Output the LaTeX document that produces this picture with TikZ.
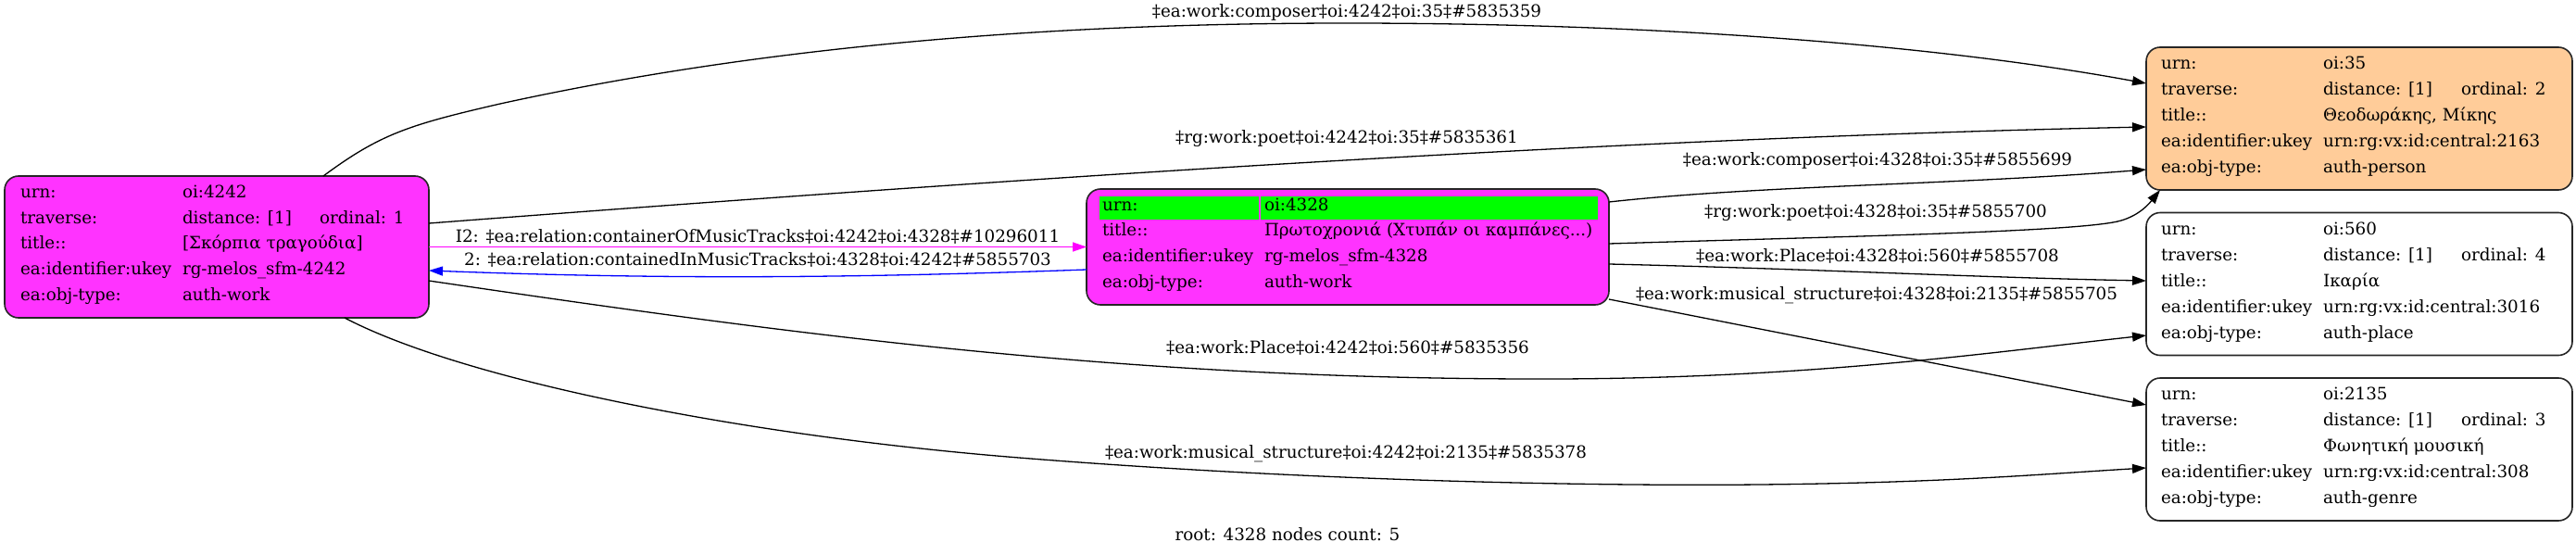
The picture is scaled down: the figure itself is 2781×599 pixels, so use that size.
\documentclass[tikz,border=0pt]{standalone}
\usepackage{fontspec}
\setmainfont{DejaVu Serif}
\usetikzlibrary{arrows.meta}
\definecolor{workfill}{HTML}{FF33FF}
\definecolor{personfill}{HTML}{FFCC99}
\definecolor{rootgreen}{HTML}{00FF00}
\definecolor{edgemag}{HTML}{FF00FF}
\definecolor{edgeblue}{HTML}{0000FF}
\newcommand{\dgfont}{\fontsize{18.3}{22}\selectfont}
\begin{document}
\begin{tikzpicture}[x=1pt,y=-1pt,
  every node/.style={font=\dgfont, inner sep=0pt, outer sep=0pt},
  recbox/.style={draw=black!85, line width=1.6pt, rounded corners=15pt, minimum width=460pt, minimum height=154pt},
  workbox/.style={recbox, fill=workfill},
  personbox/.style={recbox, fill=personfill},
  plainbox/.style={recbox, fill=white},
  cell/.style={anchor=mid west},
  elabel/.style={anchor=center},
  conn/.style={line width=1.3pt, -{Triangle[length=15pt,width=10pt]}},
]
\fill[white] (0,0) rectangle (2781,599);
\useasboundingbox (0,0) rectangle (2781,599);

% ---------- nodes ----------
\node[workbox, minimum width=458pt, minimum height=153pt] (n4242) at (234,266.5) {};
\node[workbox, minimum width=564pt, minimum height=125pt] (n4328) at (1455,266.5) {};
\node[personbox] (n35) at (2547,128) {};
\node[plainbox] (n560) at (2547,306.5) {};
\node[plainbox] (n2135) at (2547,485) {};

% root highlight
\fill[rootgreen] (1187,212) rectangle (1359,237);
\fill[rootgreen] (1361,212) rectangle (1725,237);

% node 4242 text
\node[cell] (a1) at (22,211) {urn:};
\node[cell] (a2) at (22,238.5) {traverse:};
\node[cell] (a3) at (22,266) {title::};
\node[cell] (a4) at (22,294) {ea:identifier:ukey};
\node[cell] (a5) at (22,322) {ea:obj-type:};
\node[cell] (b1) at (197,211) {oi:4242};
\node[cell] (b2) at (197,238.5) {distance: [1]};
\node[cell] (b2o) at (345,238.5) {ordinal: 1};
\node[cell] (b3) at (197,266) {{[Σκόρπια τραγούδια]}};
\node[cell] (b4) at (197,294) {rg-melos\_sfm-4242};
\node[cell] (b5) at (197,322) {auth-work};

% node 4328 text
\node[cell] (c1) at (1190,224.5) {urn:};
\node[cell] (c2) at (1190,252) {title::};
\node[cell] (c3) at (1190,280) {ea:identifier:ukey};
\node[cell] (c4) at (1190,307.5) {ea:obj-type:};
\node[cell] (d1) at (1365,224.5) {oi:4328};
\node[cell] (d2) at (1365,252) {Πρωτοχρονιά (Χτυπάν οι καμπάνες...)};
\node[cell] (d3) at (1365,280) {rg-melos\_sfm-4328};
\node[cell] (d4) at (1365,307.5) {auth-work};

% node 35 text
\node[cell] (e1) at (2333,72) {urn:};
\node[cell] (e2) at (2333,100) {traverse:};
\node[cell] (e3) at (2333,127.5) {title::};
\node[cell] (e4) at (2333,155.5) {ea:identifier:ukey};
\node[cell] (e5) at (2333,184) {ea:obj-type:};
\node[cell] (f1) at (2508,72) {oi:35};
\node[cell] (f2) at (2508,100) {distance: [1]};
\node[cell] (f2o) at (2657,100) {ordinal: 2};
\node[cell] (f3) at (2508,127.5) {Θεοδωράκης, Μίκης};
\node[cell] (f4) at (2508,155.5) {urn:rg:vx:id:central:2163};
\node[cell] (f5) at (2508,184) {auth-person};

% node 560 text
\node[cell] (g1) at (2333,251) {urn:};
\node[cell] (g2) at (2333,279) {traverse:};
\node[cell] (g3) at (2333,306.5) {title::};
\node[cell] (g4) at (2333,334.5) {ea:identifier:ukey};
\node[cell] (g5) at (2333,363) {ea:obj-type:};
\node[cell] (h1) at (2508,251) {oi:560};
\node[cell] (h2) at (2508,279) {distance: [1]};
\node[cell] (h2o) at (2657,279) {ordinal: 4};
\node[cell] (h3) at (2508,306.5) {Ικαρία};
\node[cell] (h4) at (2508,334.5) {urn:rg:vx:id:central:3016};
\node[cell] (h5) at (2508,363) {auth-place};

% node 2135 text
\node[cell] (i1) at (2333,429) {urn:};
\node[cell] (i2) at (2333,457) {traverse:};
\node[cell] (i3) at (2333,484.5) {title::};
\node[cell] (i4) at (2333,512.5) {ea:identifier:ukey};
\node[cell] (i5) at (2333,541) {ea:obj-type:};
\node[cell] (j1) at (2508,429) {oi:2135};
\node[cell] (j2) at (2508,457) {distance: [1]};
\node[cell] (j2o) at (2657,457) {ordinal: 3};
\node[cell] (j3) at (2508,484.5) {Φωνητική μουσική};
\node[cell] (j4) at (2508,512.5) {urn:rg:vx:id:central:308};
\node[cell] (j5) at (2508,541) {auth-genre};

% ---------- edges ----------
\draw[conn] ([xshift=115pt]n4242.north) .. controls (410,145) and (440,135) .. (540,112)
  .. controls (800,55) and (1100,25) .. (1454,25)
  .. controls (1800,25) and (2100,50) .. ([yshift=38pt]n35.west);
\node[elabel] (l1) at (1454,13) {‡ea:work:composer‡oi:4242‡oi:35‡\#5835359};

\draw[conn] ([yshift=25.5pt]n4242.east) .. controls (1000,200) and (1700,150) .. ([yshift=-9pt]n35.west);
\node[elabel] (l2) at (1454,150) {‡rg:work:poet‡oi:4242‡oi:35‡\#5835361};

\draw[conn, color=edgemag] (n4242.east) -- (n4328.west);
\node[elabel] (l3) at (818,255) {I2: ‡ea:relation:containerOfMusicTracks‡oi:4242‡oi:4328‡\#10296011};

\draw[conn, color=edgeblue] ([yshift=-24.5pt]n4328.west) .. controls (900,301) and (700,301) .. ([yshift=-25.5pt]n4242.east);
\node[elabel] (l4) at (818,280) {2: ‡ea:relation:containedInMusicTracks‡oi:4328‡oi:4242‡\#5855703};

\draw[conn] ([yshift=-36.5pt]n4242.east) .. controls (850,360) and (1200,408) .. (1650,409)
  .. controls (1950,410) and (2150,380) .. ([yshift=-55.5pt]n560.west);
\node[elabel] (l5) at (1455,375) {‡ea:work:Place‡oi:4242‡oi:560‡\#5835356};

\draw[conn] ([xshift=138pt]n4242.south) .. controls (500,410) and (800,470) .. (1100,494)
  .. controls (1400,518) and (1700,525) .. (1900,523)
  .. controls (2100,521) and (2200,512) .. ([yshift=-20pt]n2135.west);
\node[elabel] (l6) at (1453,490) {‡ea:work:musical\_structure‡oi:4242‡oi:2135‡\#5835378};

\draw[conn] ([yshift=48.5pt]n4328.east) .. controls (1900,200) and (2100,200) .. ([yshift=-55pt]n35.west);
\node[elabel] (l7) at (2027,173) {‡ea:work:composer‡oi:4328‡oi:35‡\#5855699};

\draw[conn] ([yshift=3.5pt]n4328.east) .. controls (2000,255) and (2250,250) .. (2290,238)
  .. controls (2310,232) and (2320,220) .. ([xshift=-215pt]n35.south);
\node[elabel] (l8) at (2025,230) {‡rg:work:poet‡oi:4328‡oi:35‡\#5855700};

\draw[conn] ([yshift=-18.5pt]n4328.east) .. controls (1950,290) and (2150,300) .. ([yshift=3.5pt]n560.west);
\node[elabel] (l9) at (2027,276) {‡ea:work:Place‡oi:4328‡oi:560‡\#5855708};

\draw[conn] ([yshift=-56.5pt]n4328.east) -- ([yshift=48pt]n2135.west);
\node[elabel] (l10) at (2026,319) {‡ea:work:musical\_structure‡oi:4328‡oi:2135‡\#5855705};

\node[elabel] (foot) at (1390,577) {root: 4328 nodes count: 5};
\end{tikzpicture}
\end{document}
